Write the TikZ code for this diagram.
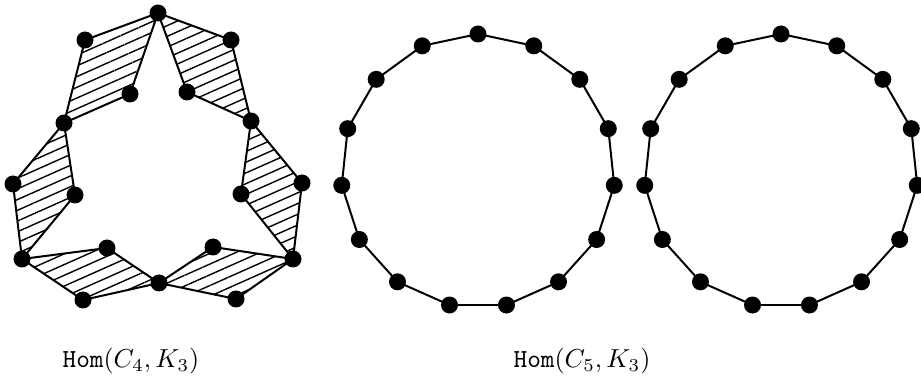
\documentclass[tikz,border=0pt]{standalone}
\usetikzlibrary{patterns.meta}
\pgfdeclarelayer{background}
\pgfsetlayers{background,main}
\begin{document}
\begin{tikzpicture}[x=1pt,y=-1pt,
  vtx/.style={circle,fill=black,inner sep=0pt,minimum size=17pt},
  edge/.style={line width=2pt,line join=round},
  hatch/.style={pattern={Lines[angle=24,distance=9.8pt,line width=1.4pt]}},
  lbl/.style={scale=2.6,inner sep=0pt}]
\useasboundingbox (0,0) rectangle (921,379);
% left complex
\node[vtx] (T)   at (158,13) {};
\node[vtx] (UL)  at (85,40) {};
\node[vtx] (UR)  at (231,40) {};
\node[vtx] (IUL) at (130,94) {};
\node[vtx] (IUR) at (187,92) {};
\node[vtx] (LU)  at (64,123) {};
\node[vtx] (RU)  at (251,121) {};
\node[vtx] (FL)  at (13,184) {};
\node[vtx] (IL)  at (75,195) {};
\node[vtx] (FR)  at (302,183) {};
\node[vtx] (IR)  at (241,194) {};
\node[vtx] (BL)  at (22,259) {};
\node[vtx] (IBL) at (107,248) {};
\node[vtx] (BC)  at (159,283) {};
\node[vtx] (IBR) at (213,247) {};
\node[vtx] (BR)  at (293,259) {};
\node[vtx] (BLL) at (83,300) {};
\node[vtx] (BRL) at (236,299) {};
\begin{pgfonlayer}{background}
\foreach \a/\b/\c/\d in {T/UL/LU/IUL, T/UR/RU/IUR, LU/FL/BL/IL, RU/FR/BR/IR, BL/IBL/BC/BLL, BR/IBR/BC/BRL}
  \draw[edge,hatch] (\a.center) -- (\b.center) -- (\c.center) -- (\d.center) -- cycle;
\end{pgfonlayer}
% 15-gons
\foreach \k in {0,...,14} {
  \node[vtx] (m\k) at ({478+137*cos(90+24*\k)},{171-137*sin(90+24*\k)}) {};
  \node[vtx] (r\k) at ({781+137*cos(90+24*\k)},{171-137*sin(90+24*\k)}) {};
}
\begin{pgfonlayer}{background}
\foreach \k [evaluate=\k as \n using {int(mod(\k+1,15))}] in {0,...,14} {
  \draw[edge] (m\k.center) -- (m\n.center);
  \draw[edge] (r\k.center) -- (r\n.center);
}
\end{pgfonlayer}
% labels
\node[lbl] (l1) at (131,361) {$\texttt{Hom}(C_4,K_3)$};
\node[lbl] (l2) at (582,361) {$\texttt{Hom}(C_5,K_3)$};
\end{tikzpicture}
\end{document}
